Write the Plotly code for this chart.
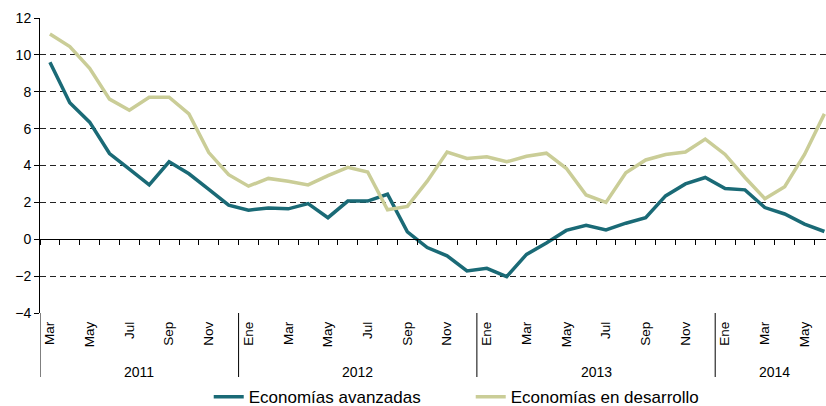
import plotly.graph_objects as go

months = ["Mar", "Abr", "May", "Jun", "Jul", "Ago", "Sep", "Oct", "Nov", "Dic",
          "Ene", "Feb", "Mar", "Abr", "May", "Jun", "Jul", "Ago", "Sep", "Oct", "Nov", "Dic",
          "Ene", "Feb", "Mar", "Abr", "May", "Jun", "Jul", "Ago", "Sep", "Oct", "Nov", "Dic",
          "Ene", "Feb", "Mar", "Abr", "May", "Jun"]
years = ["2011"] * 10 + ["2012"] * 12 + ["2013"] * 12 + ["2014"] * 6

avanzadas = [9.6, 7.4, 6.35, 4.65, 3.8, 2.95, 4.2, 3.55, 2.7, 1.85,
             1.58, 1.7, 1.65, 1.93, 1.17, 2.07, 2.07, 2.44, 0.4, -0.45, -0.9, -1.72,
             -1.58, -2.03, -0.82, -0.2, 0.48, 0.76, 0.5, 0.87, 1.17, 2.35, 3.0, 3.35,
             2.75, 2.68, 1.72, 1.37, 0.82, 0.42]
desarrollo = [11.13, 10.45, 9.27, 7.6, 7.0, 7.7, 7.7, 6.8, 4.7, 3.5,
              2.88, 3.3, 3.15, 2.95, 3.45, 3.9, 3.65, 1.6, 1.78, 3.15, 4.73, 4.38,
              4.47, 4.2, 4.5, 4.67, 3.85, 2.4, 2.0, 3.6, 4.3, 4.6, 4.73, 5.43,
              4.6, 3.35, 2.2, 2.85, 4.6, 6.8]

series_names = ["Economías avanzadas", "Economías en desarrollo"]
colors = ["#1A6A76", "#CACD97"]
yticks = [-4, -2, 0, 2, 4, 6, 8, 10, 12]

idx = list(range(len(months)))
FONT = "Arial, Liberation Sans, sans-serif"
TXT = "#000"

fig = go.Figure()
for name, vals, col in zip(series_names, [avanzadas, desarrollo], colors):
    fig.add_trace(go.Scatter(x=idx, y=vals, mode="lines", name=name,
                             line=dict(color=col, width=3.5), hoverinfo="x+y"))
# dummy trace to activate the zero-line axis
fig.add_trace(go.Scatter(x=[None], y=[None], xaxis="x2", showlegend=False, hoverinfo="skip"))

xmax = 39.08
shapes = []
annotations = []
starts = [i for i in idx if i == 0 or years[i] != years[i - 1]]
for k, s in enumerate(starts):
    shapes.append(dict(type="line", xref="x", yref="paper", x0=s - 0.5, x1=s - 0.5,
                       y0=0, y1=-0.217, line=dict(color="black", width=1)))
    e = starts[k + 1] - 1 if k + 1 < len(starts) else len(months) - 1
    annotations.append(dict(x=(s + e) / 2, y=-0.2, xref="x", yref="paper",
                            text=years[s], showarrow=False, yanchor="middle",
                            font=dict(size=14, family=FONT, color=TXT)))

fig.update_layout(
    width=826, height=406,
    margin=dict(l=40, r=0, t=18, b=93, autoexpand=False),
    paper_bgcolor="white", plot_bgcolor="white",
    font=dict(family=FONT, color=TXT),
    xaxis=dict(range=[-0.5, xmax], tickvals=idx[::2], ticktext=months[::2],
               tickangle=-90, ticks="", showgrid=False, showline=False, zeroline=False,
               automargin=False,
               tickfont=dict(size=13.5, family=FONT, color=TXT), ticklabelstandoff=5),
    xaxis2=dict(overlaying="x", anchor="free", position=0.25, side="bottom",
                range=[-0.5, xmax], tickvals=[i - 0.5 for i in range(len(months) + 1)],
                ticks="outside", ticklen=5, tickcolor="black", tickwidth=1,
                showline=True, linecolor="black", linewidth=1.2, automargin=False,
                showticklabels=False, showgrid=False, zeroline=False),
    yaxis=dict(range=[-4, 12], tickvals=yticks, ticks="outside", ticklen=5,
               tickcolor="black", showline=True, linecolor="black", linewidth=1,
               showgrid=True, gridcolor="#222", gridwidth=1, griddash="6px,4px",
               zeroline=False, automargin=False,
               tickfont=dict(size=14, family=FONT, color=TXT)),
    legend=dict(orientation="h", x=0.548, xanchor="center", y=-0.285, yanchor="middle",
                font=dict(size=17, family=FONT, color=TXT), itemwidth=30,
                entrywidth=217, entrywidthmode="pixels",
                bgcolor="rgba(0,0,0,0)"),
    shapes=shapes, annotations=annotations,
    showlegend=True,
)

fig.write_html("out.html", config={"displayModeBar": False},
               post_script="document.body.style.margin='0px';")
